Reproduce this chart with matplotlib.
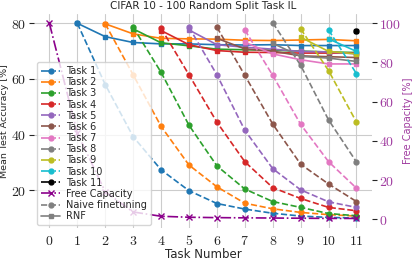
import matplotlib
matplotlib.use("Agg")
import matplotlib.pyplot as plt
from matplotlib.lines import Line2D
from matplotlib.ticker import FuncFormatter
import seaborn as sns

sns.set_style("whitegrid")
plt.rcParams['font.family'] = ['DejaVu Sans']
plt.rcParams['mathtext.fontset'] = 'cm'

# accuracy of task i (starting at task number i), naive finetuning
naive = [
    [80.0, 58.0, 39.3, 27.4, 19.9, 15.3, 13.3, 11.8, 10.8, 10.3, 10.1],
    [79.8, 61.5, 43.0, 29.1, 21.3, 15.4, 13.4, 12.1, 11.3, 10.8],
    [78.6, 62.4, 43.4, 28.8, 20.5, 16.0, 13.9, 11.7, 10.9],
    [78.2, 61.5, 44.5, 30.3, 21.0, 17.1, 13.9, 12.7],
    [78.6, 61.5, 41.6, 27.8, 20.2, 15.9, 13.9],
    [78.6, 61.3, 43.8, 29.4, 22.3, 16.0],
    [77.6, 61.3, 43.7, 30.3, 20.8],
    [80.2, 64.9, 45.3, 30.2],
    [78.0, 63.0, 44.5],
    [77.6, 61.9],
    [77.4],
]
# accuracy of task i, RNF
rnf = [
    [80.0, 75.2, 73.1, 72.6, 72.6, 72.3, 72.2, 72.3, 72.0, 72.0, 72.0],
    [79.8, 76.2, 74.6, 74.4, 74.3, 73.9, 73.8, 74.0, 74.2, 73.7],
    [78.0, 73.0, 71.9, 70.7, 70.5, 70.3, 70.0, 69.7, 69.5],
    [77.4, 72.3, 70.2, 69.6, 69.5, 69.3, 69.3, 69.3],
    [77.6, 72.3, 71.4, 70.7, 69.9, 69.7, 69.0],
    [74.6, 70.8, 70.0, 68.3, 68.0, 67.7],
    [73.2, 69.0, 66.9, 65.4, 65.4],
    [72.8, 68.1, 67.5, 66.3],
    [75.0, 69.9, 69.0],
    [74.4, 69.9],
    [77.4],
]
free_cap = [100, 44, 14, 3.7, 1.5, 1.0, 0.8, 0.7, 0.6, 0.5, 0.4, 0.4]
task_nums = list(range(12))

colors = ['tab:blue', 'tab:orange', 'tab:green', 'tab:red', 'tab:purple',
          'tab:brown', 'tab:pink', 'tab:gray', 'tab:olive', 'tab:cyan', 'black']
fcol = 'darkmagenta'

fig, ax = plt.subplots(figsize=(4.15, 2.6), dpi=100)
fig.subplots_adjust(left=0.082, right=0.896, bottom=0.123, top=0.948)

for i in range(11):
    xs = list(range(i + 1, 12))
    ax.plot(xs, rnf[i], '-s', color=colors[i], ms=3.5, lw=1.2)
    ax.plot(xs, naive[i], '--o', color=colors[i], ms=3.5, lw=1.2)

ax2 = ax.twinx()
ax2.plot(task_nums, free_cap, '-.x', color=fcol, ms=4, lw=1.2)

ax.set_xlim(-0.55, 11.55)
ax.set_ylim(6.5, 83.5)
ax2.set_ylim(-4.5, 105)
ax.set_xticks(task_nums)
ax.set_yticks([20, 40, 60, 80])
ax2.set_yticks([0, 20, 40, 60, 80, 100])
ax2.grid(False)

fmt = FuncFormatter(lambda v, p: '$%g$' % v)
ax.xaxis.set_major_formatter(fmt)
ax.yaxis.set_major_formatter(fmt)
ax2.yaxis.set_major_formatter(fmt)
ax.tick_params(axis='y', labelsize=10, pad=2)
ax.tick_params(axis='x', labelsize=10, pad=0.5)
ax2.tick_params(labelsize=10, pad=2, labelcolor='#a03ca0')
for s in list(ax.spines.values()) + list(ax2.spines.values()):
    s.set_visible(False)

ax.set_xlabel('Task Number', fontsize=8.5, labelpad=0)
ax.set_ylabel('Mean Test Accuracy [%]', fontsize=6.8, labelpad=1.5)
ax2.set_ylabel('Free Capacity [%]', fontsize=7, color='#a03ca0', labelpad=1)
ax.set_title('CIFAR 10 - 100 Random Split Task IL', fontsize=7.5, pad=3)

handles = [Line2D([], [], color=colors[i], marker='o', ls='-.', ms=3.5, lw=1.2)
           for i in range(11)]
labels = ['Task %d' % (i + 1) for i in range(11)]
handles += [Line2D([], [], color=fcol, marker='x', ls='-.', ms=4, lw=1.2),
            Line2D([], [], color='gray', marker='o', ls='--', ms=3.5, lw=1.2),
            Line2D([], [], color='gray', marker='s', ls='-', ms=3.5, lw=1.2)]
labels += ['Free Capacity', 'Naive finetuning', 'RNF']
leg = ax2.legend(handles, labels, loc='lower left', bbox_to_anchor=(0.0, 0.0),
                 fontsize=7, labelspacing=0.12, framealpha=0.8,
                 handlelength=2.0, borderpad=0.4, handletextpad=0.6,
                 borderaxespad=0.3)

fig.savefig('out.png', dpi=100)
